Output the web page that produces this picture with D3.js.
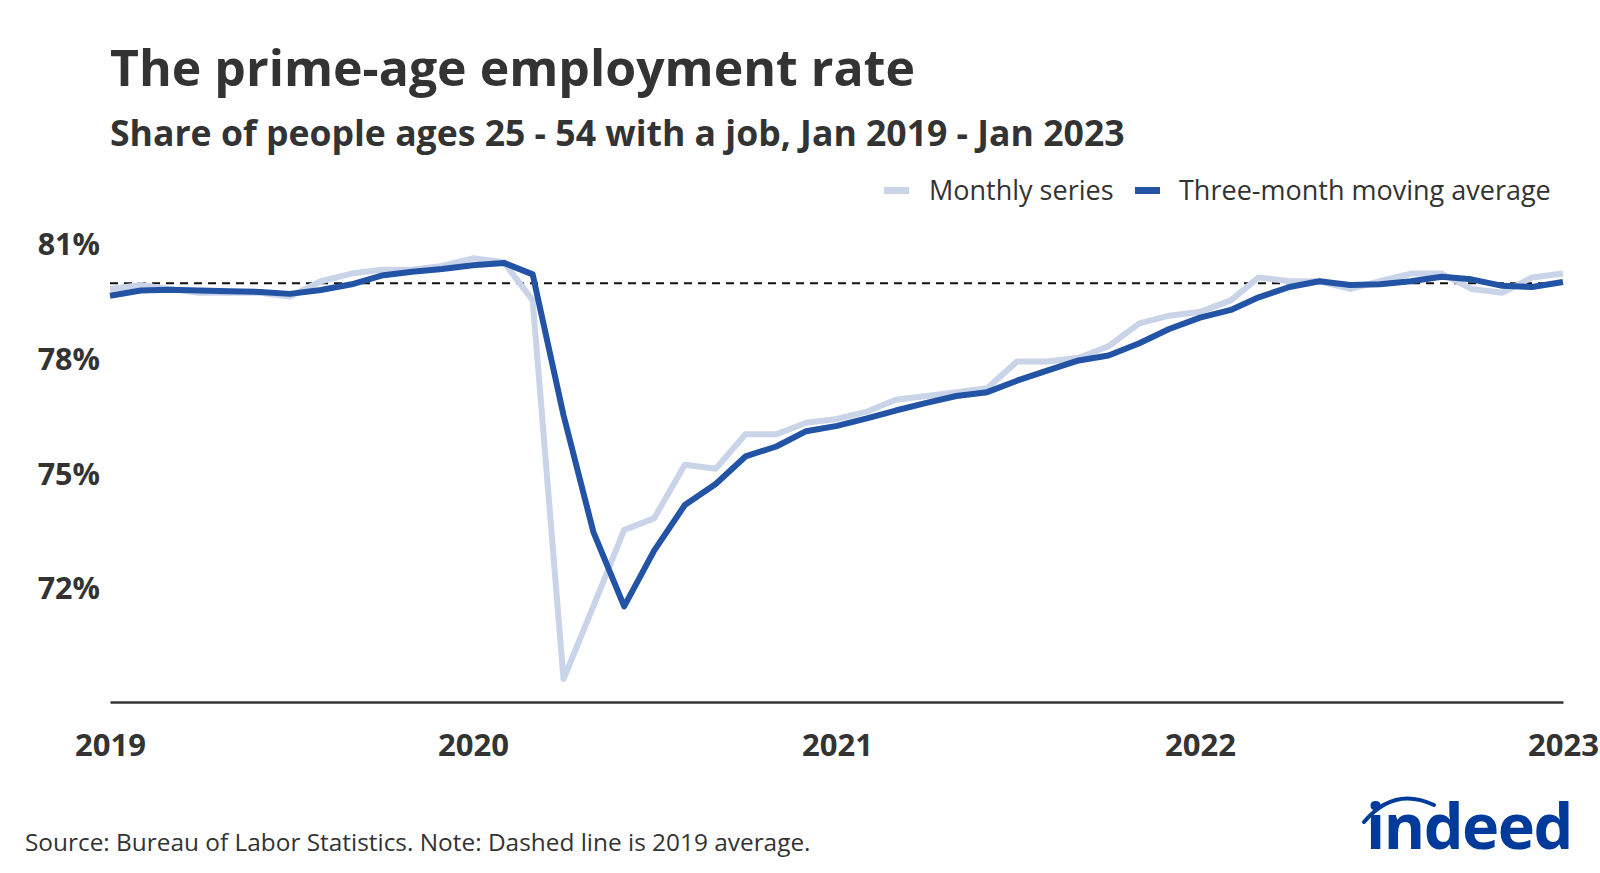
<!DOCTYPE html>
<html>
<head>
<meta charset="utf-8">
<script src="https://cdn.jsdelivr.net/npm/d3@7"></script>
<style>
  body { margin: 0; background: #fff; }
  text { font-family: "Open Sans", "Noto Sans", sans-serif; }
</style>
</head>
<body>
<div id="chart"></div>
<script>
const months = [
  '2019-01','2019-02','2019-03','2019-04','2019-05','2019-06','2019-07','2019-08','2019-09','2019-10','2019-11','2019-12',
  '2020-01','2020-02','2020-03','2020-04','2020-05','2020-06','2020-07','2020-08','2020-09','2020-10','2020-11','2020-12',
  '2021-01','2021-02','2021-03','2021-04','2021-05','2021-06','2021-07','2021-08','2021-09','2021-10','2021-11','2021-12',
  '2022-01','2022-02','2022-03','2022-04','2022-05','2022-06','2022-07','2022-08','2022-09','2022-10','2022-11','2022-12',
  '2023-01',
];

// monthly prime-age employment-population ratio (%)
const monthly = [
  79.8, 79.9, 79.8, 79.7, 79.7, 79.7, 79.6, 80.0, 80.2, 80.3, 80.3, 80.4,
  80.6, 80.5, 79.5, 69.6, 71.5, 73.5, 73.8, 75.2, 75.1, 76.0, 76.0, 76.3,
  76.4, 76.6, 76.9, 77.0, 77.1, 77.2, 77.9, 77.9, 78.0, 78.3, 78.9, 79.1,
  79.2, 79.5, 80.1, 80.0, 80.0, 79.8, 80.0, 80.2, 80.2, 79.8, 79.7, 80.1,
  80.2,
];

// three-month moving average
const movingAvg = [
  79.62, 79.76, 79.78, 79.76, 79.74, 79.72, 79.67, 79.77, 79.92, 80.15, 80.25, 80.32,
  80.42, 80.48, 80.18, 76.5, 73.45, 71.5, 72.95, 74.15, 74.7, 75.42, 75.68, 76.08,
  76.22, 76.42, 76.62, 76.82, 77.0, 77.1, 77.4, 77.67, 77.93, 78.06, 78.38, 78.75,
  79.05, 79.25, 79.58, 79.85, 80.0, 79.9, 79.92, 80.0, 80.12, 80.05, 79.88, 79.85,
  79.98,
];

const yTicks = [72, 75, 78, 81];
const xTicks = ['2019-01', '2020-01', '2021-01', '2022-01', '2023-01'];

const parse = d3.timeParse('%Y-%m');
const dates = months.map(parse);

const width = 1600;
const height = 873;
const ink = '#333333';

const svg = d3
  .select('#chart')
  .append('svg')
  .attr('width', width)
  .attr('height', height);

const x = d3
  .scaleTime()
  .domain(d3.extent(dates))
  .range([110, 1563]);

const y = d3.scaleLinear().domain([69, 81]).range([702, 243]);

// title block
svg
  .append('text')
  .attr('x', 110)
  .attr('y', 86)
  .attr('fill', ink)
  .style('font-size', '50px')
  .style('font-weight', 700)
  .text('The prime-age employment rate');

svg
  .append('text')
  .attr('x', 110)
  .attr('y', 146)
  .attr('fill', ink)
  .style('font-size', '35.6px')
  .style('font-weight', 700)
  .text('Share of people ages 25 - 54 with a job, Jan 2019 - Jan 2023');

// legend
const legend = [
  { label: 'Monthly series', color: '#c9d4e8', sx: 884, tx: 929 },
  { label: 'Three-month moving average', color: '#2253a5', sx: 1135, tx: 1179 },
];

legend.forEach((l) => {
  svg
    .append('rect')
    .attr('x', l.sx)
    .attr('y', 187)
    .attr('width', 25)
    .attr('height', 7)
    .attr('fill', l.color);
  svg
    .append('text')
    .attr('x', l.tx)
    .attr('y', 200)
    .attr('fill', ink)
    .style('font-size', '27px')
    .text(l.label);
});

// y axis labels
const yAxis = svg
  .append('g')
  .attr('transform', 'translate(100,0)')
  .call(
    d3
      .axisLeft(y)
      .tickValues(yTicks)
      .tickSize(0)
      .tickPadding(0)
      .tickFormat((d) => `${d}%`),
  );
yAxis.select('.domain').remove();
yAxis
  .selectAll('text')
  .attr('fill', ink)
  .attr('dy', '0.38em')
  .style('font-size', '30.5px')
  .style('font-weight', 700)
  .style('font-family', '"Open Sans", "Noto Sans", sans-serif');

// x axis
const xAxis = svg
  .append('g')
  .attr('transform', 'translate(0,702)')
  .call(
    d3
      .axisBottom(x)
      .tickValues(xTicks.map(parse))
      .tickSize(0)
      .tickSizeOuter(0)
      .tickFormat(d3.timeFormat('%Y')),
  );
xAxis.select('.domain').attr('stroke', ink).attr('stroke-width', 2.5);
xAxis
  .selectAll('text')
  .attr('fill', ink)
  .attr('y', 54)
  .attr('dy', 0)
  .style('font-size', '31px')
  .style('font-weight', 700)
  .style('font-family', '"Open Sans", "Noto Sans", sans-serif');

// 2019 average
const avg2019 = d3.mean(monthly.slice(0, 12));

svg
  .append('line')
  .attr('x1', x.range()[0])
  .attr('x2', x.range()[1])
  .attr('y1', y(avg2019))
  .attr('y2', y(avg2019))
  .attr('stroke', '#111')
  .attr('stroke-width', 2)
  .attr('stroke-dasharray', '8,6');

const line = d3
  .line()
  .x((d, i) => x(dates[i]))
  .y((d) => y(d));

svg
  .append('path')
  .datum(monthly)
  .attr('fill', 'none')
  .attr('stroke', '#c9d4e8')
  .attr('stroke-width', 6)
  .attr('stroke-linejoin', 'round')
  .attr('d', line);

svg
  .append('path')
  .datum(movingAvg)
  .attr('fill', 'none')
  .attr('stroke', '#2253a5')
  .attr('stroke-width', 6)
  .attr('stroke-linejoin', 'round')
  .attr('d', line);

// source note
svg
  .append('text')
  .attr('x', 25)
  .attr('y', 851)
  .attr('fill', ink)
  .style('font-size', '24.4px')
  .text('Source: Bureau of Labor Statistics. Note: Dashed line is 2019 average.');

// indeed logo
const logo = svg.append('g').attr('fill', '#003a9b');
logo
  .append('text')
  .attr('x', 1366)
  .attr('y', 849)
  .style('font-size', '63px')
  .style('font-weight', 700)
  .style('letter-spacing', '-1.5px')
  .text('indeed');
logo
  .append('path')
  .attr('d', 'M1364,822 Q1394,786 1434,805')
  .attr('fill', 'none')
  .attr('stroke', '#003a9b')
  .attr('stroke-width', 4)
  .attr('stroke-linecap', 'round');
</script>
</body>
</html>
